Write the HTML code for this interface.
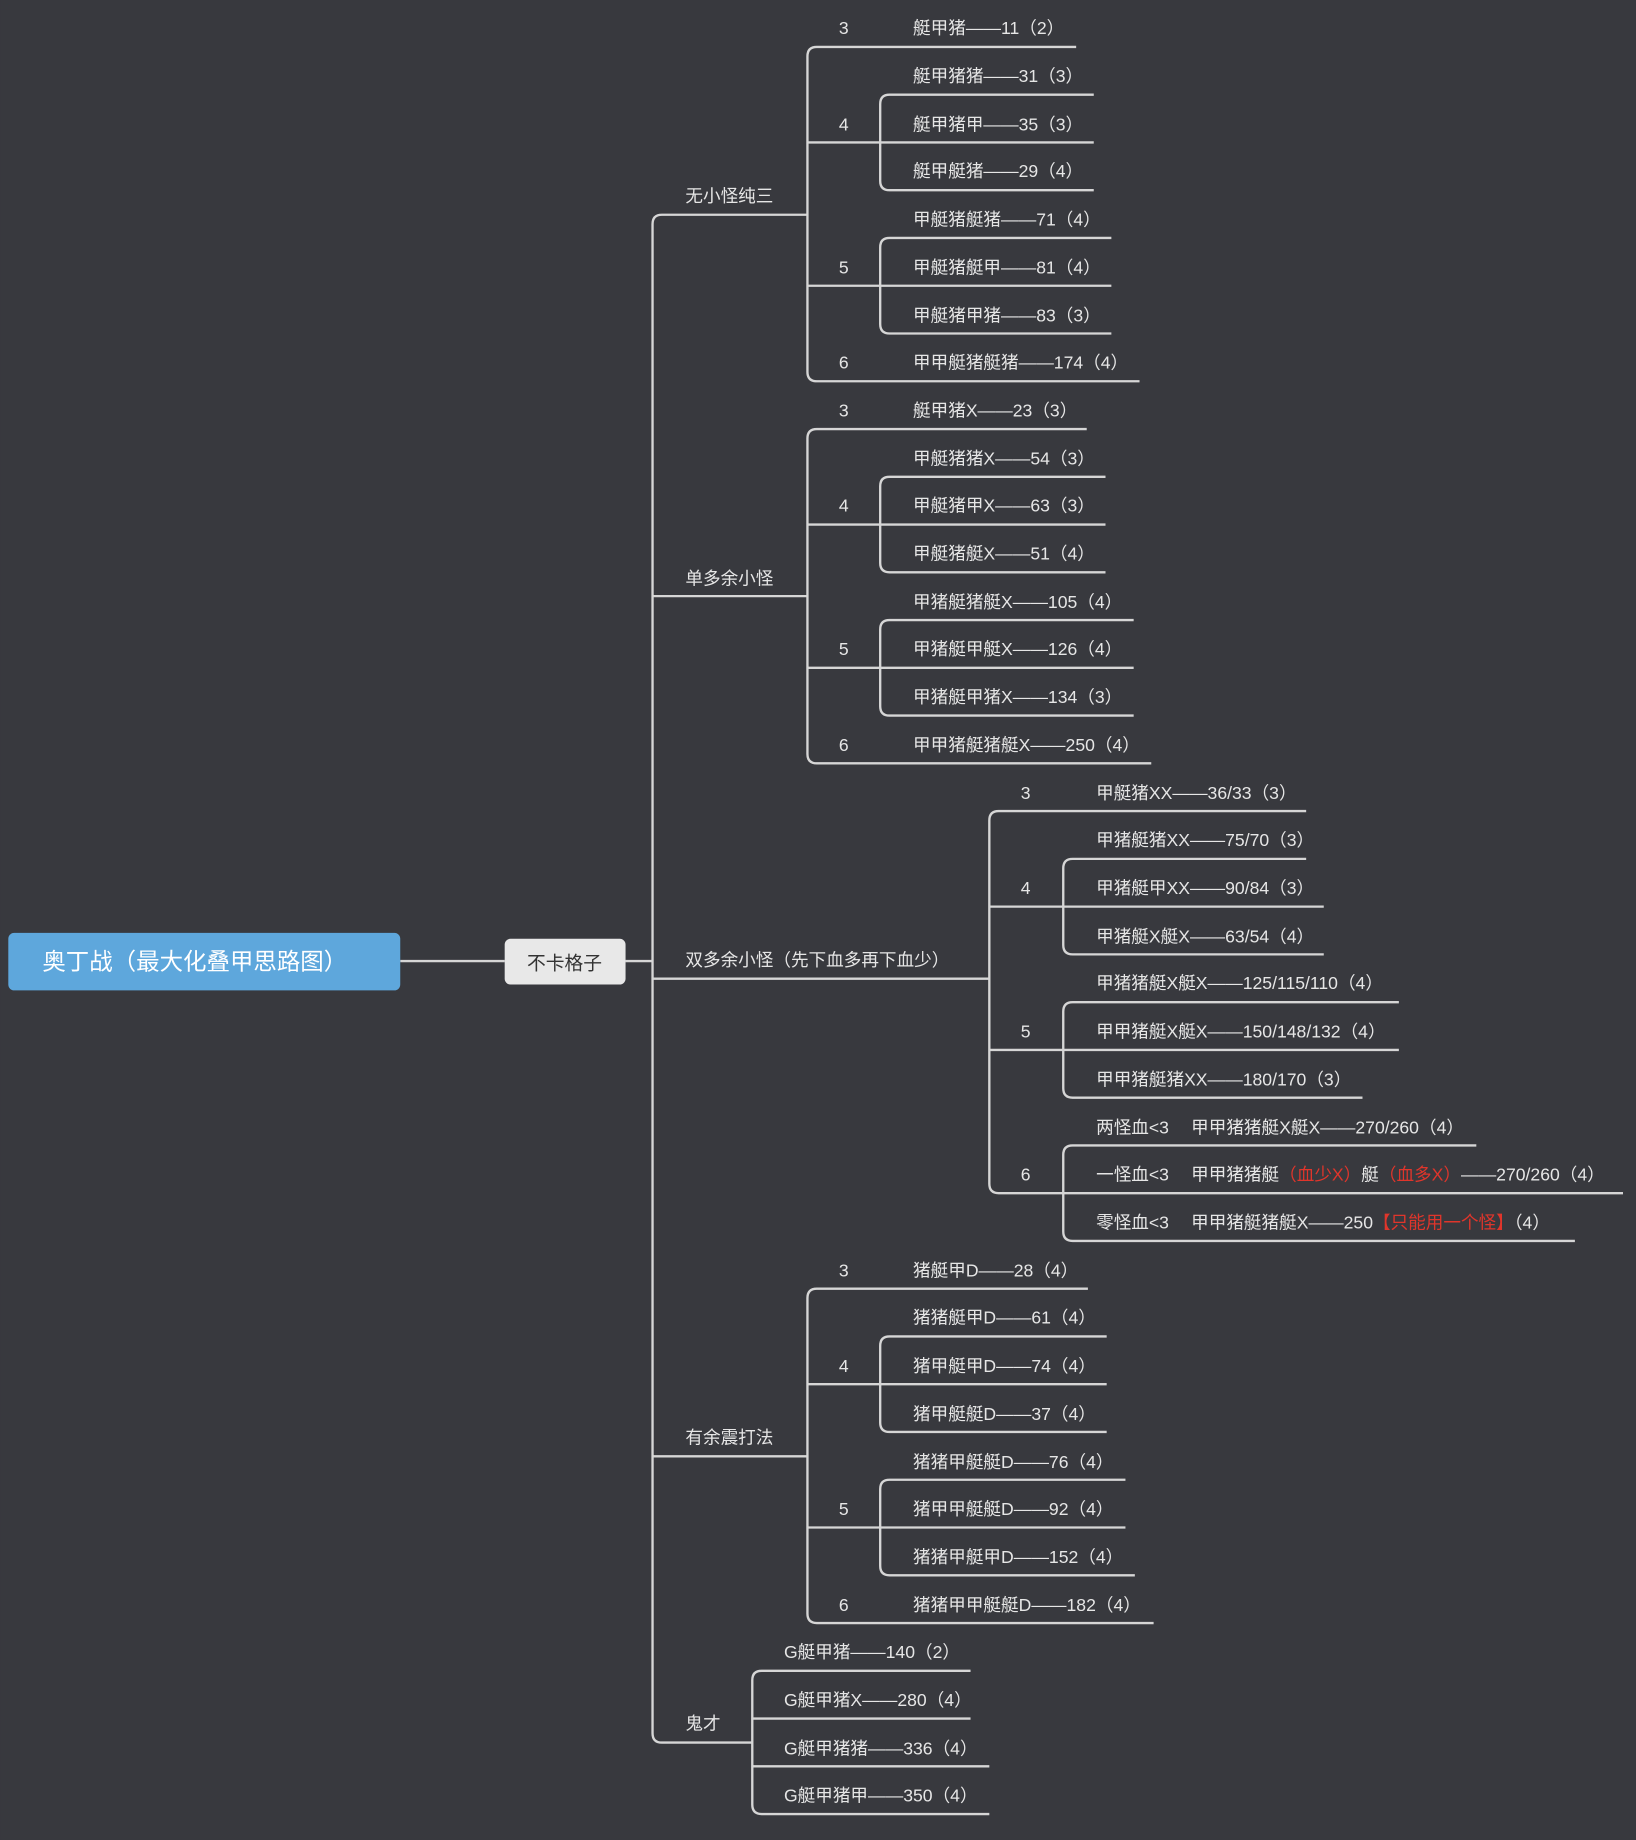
<!DOCTYPE html>
<html><head><meta charset="utf-8"><style>
html,body{margin:0;padding:0;background:#38393e;}
svg{display:block}
text{font-family:"Liberation Sans","Noto Sans CJK SC",sans-serif;font-size:15px;fill:#e6e6e6}
.n{text-anchor:middle}
.r{fill:#e0352b}
path{fill:none;stroke:#d6d6d6;stroke-width:2}
</style></head><body>
<svg width="1636" height="1840" viewBox="0 0 1394 1568" xmlns="http://www.w3.org/2000/svg">
<rect x="0" y="0" width="1394" height="1568" fill="#38393e" style="stroke:none"/>
<!-- root -->
<path d="M341 819 H430 M533 819 H556"/>
<rect x="7" y="795" width="334" height="49" rx="5" fill="#5ea7dc" style="stroke:none"/>
<text x="36" y="826" style="font-size:20px;fill:#fff">奥丁战（最大化叠甲思路图）</text>
<rect x="430" y="800" width="103" height="39" rx="5" fill="#e8e8e8" style="stroke:none"/>
<text x="481" y="826" class="n" style="font-size:16px;fill:#333">不卡格子</text>
<!-- main vertical -->
<path d="M556 191 V1477 M556 191 Q556 183 564 183 H688 M556 508 H688 M556 834 H843 M556 1241 H688 M556 1477 Q556 1485 564 1485 H641"/>
<text x="584" y="172">无小怪纯三</text>
<text x="584" y="498">单多余小怪</text>
<text x="584" y="823">双多余小怪（先下血多再下血少）</text>
<text x="584" y="1230">有余震打法</text>
<text x="584" y="1474">鬼才</text>

<!-- group1 -->
<path d="M688 48 V316.9 M688 48 Q688 40 696 40 H917 M688 121.4 H750 M750 88.7 V154.1 M750 88.7 Q750 80.7 758 80.7 H932 M750 121.4 H932 M750 154.1 Q750 162.1 758 162.1 H932 M688 243.5 H750 M750 210.8 V276.2 M750 210.8 Q750 202.8 758 202.8 H947 M750 243.5 H947 M750 276.2 Q750 284.2 758 284.2 H947 M688 316.9 Q688 324.9 696 324.9 H971"/>
<text x="719" y="29" class="n">3</text><text x="719" y="111" class="n">4</text><text x="719" y="233" class="n">5</text><text x="719" y="314" class="n">6</text>
<text x="778" y="29">艇甲猪——11（2）</text>
<text x="778" y="70">艇甲猪猪——31（3）</text>
<text x="778" y="111">艇甲猪甲——35（3）</text>
<text x="778" y="151">艇甲艇猪——29（4）</text>
<text x="778" y="192">甲艇猪艇猪——71（4）</text>
<text x="778" y="233">甲艇猪艇甲——81（4）</text>
<text x="778" y="274">甲艇猪甲猪——83（3）</text>
<text x="778" y="314">甲甲艇猪艇猪——174（4）</text>

<!-- group2 -->
<path d="M688 373.6 V642.5 M688 373.6 Q688 365.6 696 365.6 H926 M688 447 H750 M750 414.3 V479.7 M750 414.3 Q750 406.3 758 406.3 H942 M750 447 H942 M750 479.7 Q750 487.7 758 487.7 H942 M688 569.1 H750 M750 536.4 V601.8 M750 536.4 Q750 528.4 758 528.4 H966 M750 569.1 H966 M750 601.8 Q750 609.8 758 609.8 H966 M688 642.5 Q688 650.5 696 650.5 H981"/>
<text x="719" y="355" class="n">3</text><text x="719" y="436" class="n">4</text><text x="719" y="558" class="n">5</text><text x="719" y="640" class="n">6</text>
<text x="778" y="355">艇甲猪X——23（3）</text>
<text x="778" y="396">甲艇猪猪X——54（3）</text>
<text x="778" y="436">甲艇猪甲X——63（3）</text>
<text x="778" y="477">甲艇猪艇X——51（4）</text>
<text x="778" y="518">甲猪艇猪艇X——105（4）</text>
<text x="778" y="558">甲猪艇甲艇X——126（4）</text>
<text x="778" y="599">甲猪艇甲猪X——134（3）</text>
<text x="778" y="640">甲甲猪艇猪艇X——250（4）</text>

<!-- group3 -->
<path d="M843 699.2 V1008.8 M843 699.2 Q843 691.2 851 691.2 H1113 M843 772.6 H906 M906 739.9 V805.3 M906 739.9 Q906 731.9 914 731.9 H1113 M906 772.6 H1128 M906 805.3 Q906 813.3 914 813.3 H1128 M843 894.7 H906 M906 862 V927.4 M906 862 Q906 854 914 854 H1192 M906 894.7 H1192 M906 927.4 Q906 935.4 914 935.4 H1161 M843 1008.8 Q843 1016.8 851 1016.8 H906 M906 984.1 V1049.5 M906 984.1 Q906 976.1 914 976.1 H1258 M906 1016.8 H1383 M906 1049.5 Q906 1057.5 914 1057.5 H1342"/>
<text x="874" y="681" class="n">3</text><text x="874" y="762" class="n">4</text><text x="874" y="884" class="n">5</text><text x="874" y="1006" class="n">6</text>
<text x="934" y="681">甲艇猪XX——36/33（3）</text>
<text x="934" y="721">甲猪艇猪XX——75/70（3）</text>
<text x="934" y="762">甲猪艇甲XX——90/84（3）</text>
<text x="934" y="803">甲猪艇X艇X——63/54（4）</text>
<text x="934" y="843">甲猪猪艇X艇X——125/115/110（4）</text>
<text x="934" y="884">甲甲猪艇X艇X——150/148/132（4）</text>
<text x="934" y="925">甲甲猪艇猪XX——180/170（3）</text>
<text x="934" y="966">两怪血&lt;3</text>
<text x="1015" y="966">甲甲猪猪艇X艇X——270/260（4）</text>
<text x="934" y="1006">一怪血&lt;3</text>
<text x="1015" y="1006">甲甲猪猪艇<tspan class="r">（血少X）</tspan>艇<tspan class="r">（血多X）</tspan>——270/260（4）</text>
<text x="934" y="1047">零怪血&lt;3</text>
<text x="1015" y="1047">甲甲猪艇猪艇X——250<tspan class="r">【只能用一个怪】</tspan>（4）</text>

<!-- group4 -->
<path d="M688 1106.2 V1375.1 M688 1106.2 Q688 1098.2 696 1098.2 H927 M688 1179.6 H750 M750 1146.9 V1212.3 M750 1146.9 Q750 1138.9 758 1138.9 H943 M750 1179.6 H943 M750 1212.3 Q750 1220.3 758 1220.3 H943 M688 1301.7 H750 M750 1269 V1334.4 M750 1269 Q750 1261 758 1261 H959 M750 1301.7 H959 M750 1334.4 Q750 1342.4 758 1342.4 H967 M688 1375.1 Q688 1383.1 696 1383.1 H983"/>
<text x="719" y="1088" class="n">3</text><text x="719" y="1169" class="n">4</text><text x="719" y="1291" class="n">5</text><text x="719" y="1373" class="n">6</text>
<text x="778" y="1088">猪艇甲D——28（4）</text>
<text x="778" y="1128">猪猪艇甲D——61（4）</text>
<text x="778" y="1169">猪甲艇甲D——74（4）</text>
<text x="778" y="1210">猪甲艇艇D——37（4）</text>
<text x="778" y="1251">猪猪甲艇艇D——76（4）</text>
<text x="778" y="1291">猪甲甲艇艇D——92（4）</text>
<text x="778" y="1332">猪猪甲艇甲D——152（4）</text>
<text x="778" y="1373">猪猪甲甲艇艇D——182（4）</text>

<!-- group5 -->
<path d="M641 1431.8 V1537.9 M641 1431.8 Q641 1423.8 649 1423.8 H827 M641 1464.5 H827 M641 1505.2 H843 M641 1537.9 Q641 1545.9 649 1545.9 H843"/>
<text x="668" y="1413">G艇甲猪——140（2）</text>
<text x="668" y="1454">G艇甲猪X——280（4）</text>
<text x="668" y="1495">G艇甲猪猪——336（4）</text>
<text x="668" y="1535">G艇甲猪甲——350（4）</text>
</svg>
</body></html>
